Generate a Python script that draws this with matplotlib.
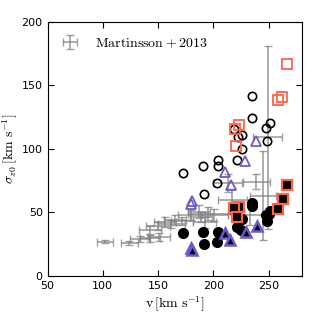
import matplotlib
matplotlib.use('Agg')
import matplotlib.pyplot as plt
import numpy as np

plt.rcParams['mathtext.fontset'] = 'cm'
plt.rcParams['font.family'] = ['DejaVu Sans']

# Martinsson + 2013 (x, y, xerr, yerr)
m13_v = [102, 124, 134, 143, 151, 143, 150, 156, 162, 165, 172, 180, 187, 189, 192, 201, 217, 213, 239, 249, 245, 233, 195]
m13_s = [27, 26, 29, 29.5, 30.5, 36, 39, 42.5, 41, 44, 43, 48, 50.5, 46.5, 42, 48, 60, 73, 74, 109, 63, 48, 49]
m13_ve = [7.5, 8, 9, 9, 10, 10, 11, 10, 12, 10, 10, 12, 10, 10, 10, 12, 13, 13, 12, 13, 12, 15, 18]
m13_se = [1.5, 1.5, 2, 3, 3, 3, 3, 4, 3, 4, 3, 4, 5, 4, 4, 5, 8, 7, 6, 72, 35, 8, 5]

# open circles
oc_v = [234.8, 234.8, 251.5, 247.8, 248.5, 218.6, 226.3, 222.6, 225.6, 204.4, 221.0, 204.4, 190.7, 172.4, 203.7, 191.2]
oc_s = [141.8, 124.2, 120.3, 116.8, 105.8, 115.5, 111.0, 109.2, 99.8, 91.3, 91.5, 86.6, 86.8, 81.3, 72.9, 64.5]

# filled circles
fc_v = [172.4, 190.7, 191.6, 204.4, 203.5, 226.0, 221.0, 225.0, 234.8, 235.4, 218.0, 247.8, 248.5, 251.6, 250.0]
fc_s = [33.9, 34.7, 24.9, 34.7, 26.8, 44.5, 38.5, 36.4, 57.1, 55.0, 51.5, 47.5, 43.0, 51.3, 49.0]

# open squares
os_v = [266.7, 262.1, 258.5, 223.2, 219.3, 220.8]
os_s = [166.8, 141.0, 138.1, 118.7, 116.0, 102.6]

# filled squares
fs_v = [266.7, 262.8, 258.5, 223.5, 218.3, 221.1]
fs_s = [71.6, 60.3, 52.9, 54.0, 53.4, 46.6]

# open triangles
ot_v = [239.0, 228.3, 210.7, 215.6, 180.8, 179.6]
ot_s = [106.0, 90.4, 82.1, 71.2, 59.0, 56.5]

# filled triangles
ft_v = [210.7, 215.3, 229.3, 239.3, 179.6, 180.6]
ft_s = [33.7, 28.2, 34.7, 39.2, 22.0, 20.6]

fig = plt.figure(figsize=(3.17, 3.17), dpi=100)
ax = fig.add_axes([0.15, 0.13, 0.802, 0.801])

ax.errorbar(m13_v, m13_s, xerr=m13_ve, yerr=m13_se, fmt='none', ecolor='gray',
            elinewidth=1.2, capsize=3, capthick=1, alpha=0.75, label='$\\mathrm{Martinsson} + 2013$', zorder=1)

ax.plot(oc_v, oc_s, 'o', mfc='none', mec='k', mew=1.2, ms=6, zorder=3)
ax.plot(fc_v, fc_s, 'o', mfc='k', mec='k', ms=7, zorder=3)
ax.plot(os_v, os_s, 's', mfc='none', mec='#FF6347', mew=1.3, ms=6.5, zorder=4)
ax.plot(fs_v, fs_s, 's', mfc='k', mec='#FF6347', mew=1.6, ms=6.5, zorder=4)
ax.plot(ot_v, ot_s, '^', mfc='none', mec='#6A5ACD', mew=1.3, ms=6.5, zorder=4)
ax.plot(ft_v, ft_s, '^', mfc='k', mec='#6A5ACD', mew=1.8, ms=6.5, zorder=4)

ax.set_xlim(50, 280)
ax.set_ylim(0, 200)
ax.set_xticks([50, 100, 150, 200, 250])
ax.set_yticks([0, 50, 100, 150, 200])
ax.tick_params(direction='in', top=True, right=True, length=4, labelsize=8)
ax.set_xlabel('$\\mathrm{v}\\,[\\mathrm{km\\ s^{-1}}]$', fontsize=10, labelpad=3)
ax.set_ylabel('$\\sigma_{z0}\\,[\\mathrm{km\\ s^{-1}}]$', fontsize=10, labelpad=1)
leg = ax.legend(loc='upper left', frameon=False, fontsize=10, handlelength=1.2,
                handletextpad=1.2, borderaxespad=0.6)

fig.savefig('out.png', dpi=100)
